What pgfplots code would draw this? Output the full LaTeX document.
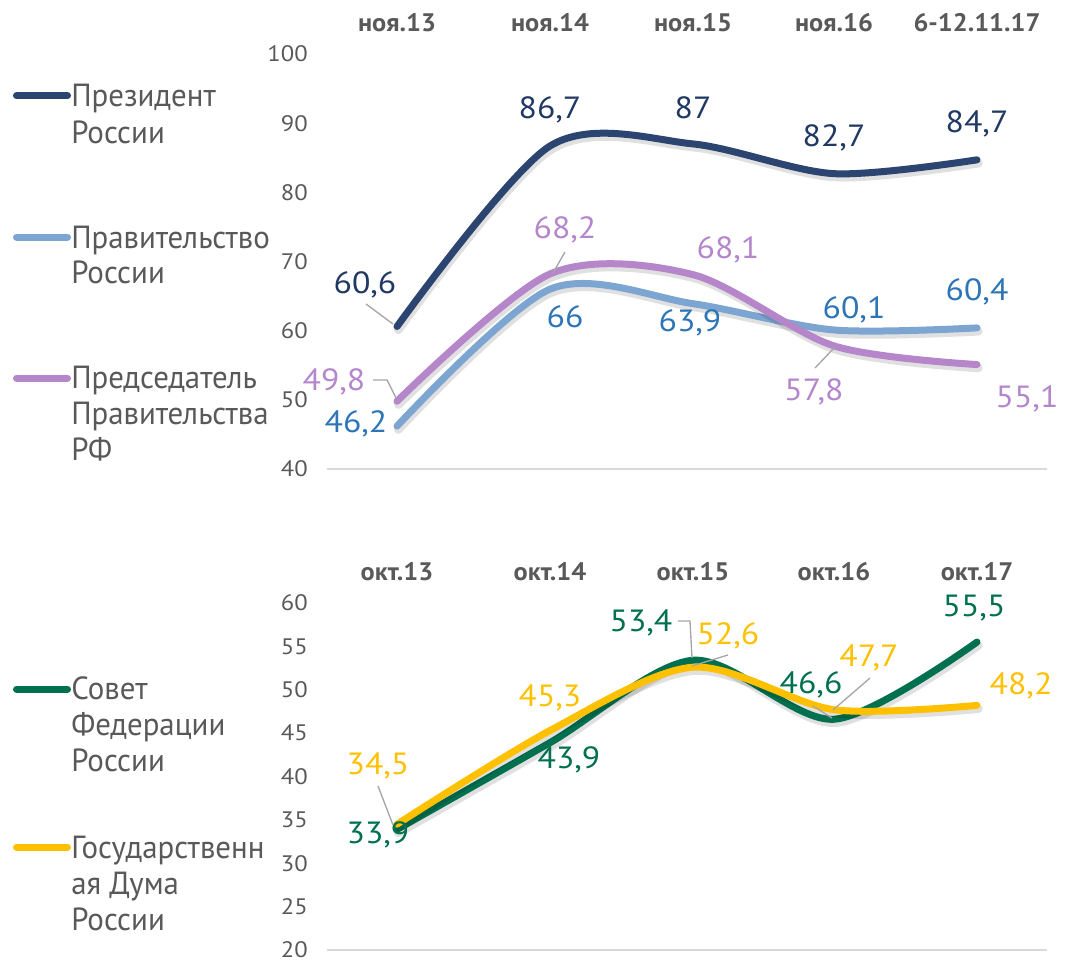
\documentclass[border=0pt]{standalone}
\usepackage{fontspec}
\setmainfont{PT Sans}
\newfontfamily\legfont[FakeStretch=0.965]{PT Sans}
\newfontfamily\numfont[FakeStretch=1.1]{PT Sans}
\newfontfamily\catfont[FakeStretch=1.04]{PT Sans}
\usepackage{pgfplots}
\pgfplotsset{compat=1.18}
\usepackage{pgfplotstable}

\definecolor{cPres}{HTML}{2B4470}
\definecolor{cPresL}{HTML}{203864}
\definecolor{cGov}{HTML}{7CA5D2}
\definecolor{cGovL}{HTML}{2E75B6}
\definecolor{cPM}{HTML}{B586C9}
\definecolor{cPML}{HTML}{B487CC}
\definecolor{cSF}{HTML}{00704F}
\definecolor{cGD}{HTML}{FFC000}
\definecolor{txt}{HTML}{595959}
\definecolor{cGrid}{HTML}{D9D9D9}
\definecolor{cLead}{HTML}{A6A6A6}

\pgfplotstableread{
x y lab dx dy
397 60.6 60,6 -32 41.5
550 86.7 86,7 0 36
693 87 87 0 36
834 82.7 82,7 0 35.6
977 84.7 84,7 0 36
}\tPres

\pgfplotstableread{
x y lab dx dy
397 46.2 46,2 -41 2
550 66 66 15 -28
693 63.9 63,9 -3 -19
834 60.1 60,1 20 20
977 60.4 60,4 0 36
}\tGov

\pgfplotstableread{
x y lab dx dy
397 49.8 49,8 -63 19
550 68.2 68,2 15 44
693 68.1 68,1 35 24.6
834 57.8 57,8 -20 -46
977 55.1 55,1 50 -34
}\tPM

\pgfplotstableread{
x y lab dx dy
397 33.9 33,9 -19 -5.6
550 43.9 43,9 19 -17
693 53.4 53,4 -52 37
834 46.6 46,6 -23 34
977 55.5 55,5 -3 34
}\tSF

\pgfplotstableread{
x y lab dx dy
397 34.5 34,5 -19 58
550 45.3 45,3 0 32.5
693 52.6 52,6 35 31
834 47.7 47,7 35 52
977 48.2 48,2 44 20
}\tGD

\pgfplotsset{
  myaxis/.style={
    scale only axis, width=540pt, xmin=327, xmax=1047, clip=false,
    axis line style={draw=none}, major tick length=0pt, tick style={draw=none},
    xtick={397,550,693,834,977}, xticklabel pos=right,
    xticklabel style={font=\catfont\bfseries\fontsize{19pt}{20pt}\selectfont, text=txt, anchor=base, yshift=17.25pt},
    yticklabel style={font=\numfont\fontsize{16.8pt}{18pt}\selectfont, text=txt, anchor=east, inner sep=0pt, xshift=-14.25pt},
    /pgf/number format/assume math mode=true,
  },
  ser/.style 2 args={smooth, line width=5.25pt, line cap=round, line join=round, mark=none, color=#1,
    nodes near coords, point meta=explicit symbolic,
    visualization depends on={\thisrow{dx}\as\dx},
    visualization depends on={\thisrow{dy}\as\dy},
    nodes near coords style={anchor=center, xshift={\dx*0.75pt}, yshift={\dy*0.75pt},
      font=\numfont\fontsize{23pt}{24pt}\selectfont, inner sep=0pt, text=#2},
  },
  shad/.style={smooth, line width=6.5pt, line cap=round, black, opacity=0.12, mark=none, forget plot,
    transform canvas={xshift=1pt, yshift=-2.5pt}},
}

\begin{document}
\begin{tikzpicture}[x=0.75pt, y=-0.75pt]
\path[use as bounding box] (0,0) rectangle (1066,963);

% ---------- top chart ----------
\begin{axis}[myaxis, at={(245.25pt,-351.75pt)}, anchor=south west, height=311.25pt,
  ymin=40, ymax=100, ytick={40,50,...,100},
  xticklabels={ноя.13,ноя.14,ноя.15,ноя.16,6-12.11.17}]
\draw[cGrid, line width=1.2pt] (rel axis cs:0,0) -- (rel axis cs:1,0);
\addplot[shad] table[x=x,y=y] {\tPres};
\addplot[ser={cPres}{cPresL}] table[x=x,y=y,meta=lab] {\tPres};
\addplot[shad] table[x=x,y=y] {\tGov};
\addplot[ser={cGov}{cGovL}] table[x=x,y=y,meta=lab] {\tGov};
\addplot[shad] table[x=x,y=y] {\tPM};
\addplot[ser={cPM}{cPML}] table[x=x,y=y,meta=lab] {\tPM};
\end{axis}

% ---------- bottom chart ----------
\begin{axis}[myaxis, at={(245.25pt,-712.5pt)}, anchor=south west, height=260.25pt,
  ymin=20, ymax=60, ytick={20,25,...,60},
  xticklabels={окт.13,окт.14,окт.15,окт.16,окт.17}]
\draw[cGrid, line width=1.2pt] (rel axis cs:0,0) -- (rel axis cs:1,0);
\addplot[shad] table[x=x,y=y] {\tSF};
\addplot[ser={cSF}{cSF}] table[x=x,y=y,meta=lab] {\tSF};
\addplot[shad] table[x=x,y=y] {\tGD};
\addplot[ser={cGD}{cGD}] table[x=x,y=y,meta=lab] {\tGD};
\end{axis}

% ---------- leader lines ----------
\begin{scope}[cLead, line width=1pt]
\draw (366,304) -- (393,324);
\draw (373,380) -- (387,380) -- (396,398);
\draw (565,252) -- (553,273);
\draw (815,368) -- (835,347);
\draw (378,786) -- (393,825);
\draw (678,621) -- (690,621) -- (692,658);
\draw (728,655) -- (692,666);
\draw (813,706) -- (832,718);
\draw (870,678) -- (833,710);
\end{scope}

% ---------- legends ----------
\begin{scope}[line width=5.25pt, line cap=round]
\draw[cPres] (16.5,96) -- (67.5,96);
\draw[cGov] (16.5,237) -- (67.5,237);
\draw[cPM] (16.5,378) -- (67.5,378);
\draw[cSF] (16.5,689) -- (67.5,689);
\draw[cGD] (16.5,847) -- (67.5,847);
\end{scope}
\begin{scope}[every node/.style={anchor=base west, inner sep=0pt, text=txt, font=\legfont\fontsize{24pt}{27pt}\selectfont}]
\node at (71,107) {Президент};
\node at (71,143) {России};
\node at (71,248) {Правительство};
\node at (71,283) {России};
\node at (71,388) {Председатель};
\node at (71,424) {Правительства};
\node at (71,460) {РФ};
\node at (71,699) {Совет};
\node at (71,735) {Федерации};
\node at (71,771) {России};
\node at (71,858) {Государственн};
\node at (71,894) {ая Дума};
\node at (71,930) {России};
\end{scope}
\end{tikzpicture}
\end{document}
